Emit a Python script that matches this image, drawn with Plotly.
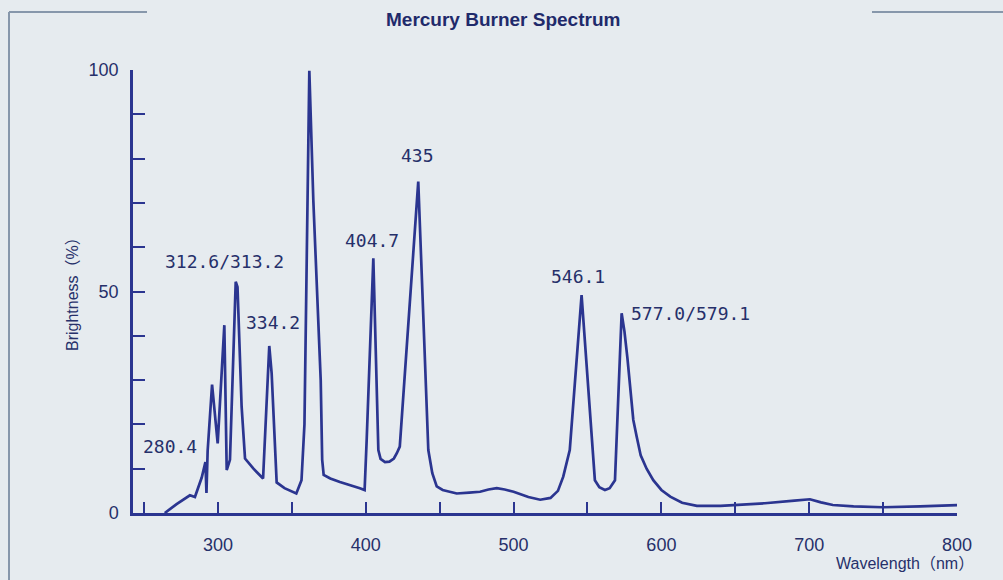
import plotly.graph_objects as go

# ---- data ----
wavelength = [264, 272, 281, 284.4, 289, 291.5, 292.2, 293, 296, 299.8, 304.3, 305.9, 308.1,
              312, 313.2, 316, 318.3, 324, 330.5, 334.7, 336.3, 339.7, 345, 350, 353, 356.5,
              358.5, 361.8, 364.5, 369.5, 370.5, 371.5, 376, 382.5, 390, 396, 399.2, 400.6,
              405.1, 407.4, 408.5, 410, 413, 416, 419, 421, 423, 435.5, 440, 442.3, 445, 448,
              452, 461.5, 470, 477.3, 483, 488.6, 494, 500, 510, 518, 525, 530, 533.6, 538,
              546, 550.5, 555, 558, 561.8, 565, 568.6, 573.1, 575, 577, 579, 581, 583.3, 586,
              590, 594.5, 600, 606, 614, 624, 640, 653, 670, 690, 700.5, 708, 716, 730, 750,
              775, 800]
brightness = [0, 2, 4, 3.6, 8, 11.5, 4.5, 14, 29, 15.7, 42.4, 9.7, 12,
              52.2, 51, 24, 12.3, 10, 7.8, 37.7, 31.6, 6.9, 5.6, 4.8, 4.4, 7.4,
              20, 99.8, 70.6, 30, 12, 8.6, 7.8, 7, 6.3, 5.6, 5.2, 16.5,
              57.5, 31.6, 14.2, 12.2, 11.5, 11.6, 12.3, 13.5, 15, 74.8, 31.6, 14.2, 9, 6,
              5.2, 4.4, 4.6, 4.8, 5.3, 5.6, 5.3, 4.8, 3.6, 3.0, 3.4, 5, 8.2, 14.2,
              49.2, 29.3, 7.4, 5.8, 5.2, 5.6, 7.4, 45.1, 41, 35, 27.8, 21, 17.2, 13,
              10, 7.4, 5.2, 3.7, 2.3, 1.6, 1.6, 1.8, 2.2, 2.8, 3.1, 2.4, 1.8, 1.5, 1.3,
              1.5, 1.8]

peak_labels = ["365/366", "435", "404.7", "312.6/313.2", "334.2", "280.4", "546.1", "577.0/579.1"]
peak_label_x = [362.2, 435.3, 404.2, 304.7, 337.2, 267.5, 543.6, 619.4]
peak_label_y = [104.0, 80.8, 61.6, 56.7, 43.1, 14.9, 53.3, 45.1]

x_major = [300, 400, 500, 600, 700, 800]
x_minor = [250, 350, 450, 550, 650, 750]
y_ticks = [0, 10, 20, 30, 40, 50, 60, 70, 80, 90, 100]
y_labels = ["0", "", "", "", "", "50", "", "", "", "", "100"]

title_text = "Mercury Burner Spectrum"
x_title = "Wavelength（nm）"
y_title = "Brightness（%）"

# ---- layout geometry ----
W, H = 1003, 580
L, R, T, B = 133, 46, 70, 67
PW, PH = W - L - R, H - T - B


def px_x(p):
    return (p - L) / PW


def px_y(p):
    return (H - B - p) / PH


NAVY = "#2b3590"
TEXT = "#26306a"
BG = "#e6ebef"
FRAME = "#8797ab"

fig = go.Figure()
fig.add_trace(go.Scatter(x=wavelength, y=brightness, mode="lines",
                         line=dict(color=NAVY, width=2.7), hoverinfo="skip",
                         showlegend=False, cliponaxis=False))

mono = "DejaVu Sans Mono, Liberation Mono, monospace"
for t, xv, yv in zip(peak_labels, peak_label_x, peak_label_y):
    fig.add_annotation(x=xv, y=yv, xref="x", yref="y", text=t, showarrow=False,
                       xanchor="center", yanchor="middle",
                       font=dict(family=mono, size=18, color=TEXT))

tick_font = dict(family="Liberation Sans Narrow, Arial Narrow, Liberation Sans, Arial, sans-serif",
                 size=18, color=TEXT)

fig.update_xaxes(range=[242.5, 800], tickmode="array", tickvals=x_major + x_minor,
                 ticktext=[str(v) for v in x_major] + [""] * len(x_minor),
                 ticks="inside", ticklen=11, tickwidth=2, tickcolor=NAVY,
                 showline=True, linecolor=NAVY, linewidth=2.5, showgrid=False,
                 zeroline=False, tickfont=tick_font, ticklabelstandoff=14)
fig.update_yaxes(range=[0, 100], tickmode="array", tickvals=y_ticks, ticktext=y_labels,
                 ticks="inside", ticklen=12, tickwidth=2, tickcolor=NAVY,
                 showline=True, linecolor=NAVY, linewidth=2.5, showgrid=False,
                 zeroline=False, tickfont=tick_font, ticklabelstandoff=8)

# titles
fig.add_annotation(x=px_x(503), y=px_y(20), xref="paper", yref="paper", text="<b>" + title_text + "</b>",
                   showarrow=False, xanchor="center", yanchor="middle",
                   font=dict(family="Liberation Sans, Arial, sans-serif", size=19, color="#1f2a6b"))
fig.add_annotation(x=px_x(905), y=px_y(563), xref="paper", yref="paper", text=x_title,
                   showarrow=False, xanchor="center", yanchor="middle",
                   font=dict(family="Liberation Sans, Noto Sans CJK JP, sans-serif", size=16, color=TEXT))
fig.add_annotation(x=px_x(72), y=px_y(290), xref="paper", yref="paper", text=y_title,
                   showarrow=False, textangle=-90, xanchor="center", yanchor="middle",
                   font=dict(family="Liberation Sans, Noto Sans CJK JP, sans-serif", size=16, color=TEXT))

# frame lines
fig.add_shape(type="line", xref="paper", yref="paper", x0=px_x(9), x1=px_x(9), y0=px_y(12), y1=px_y(582),
              line=dict(color=FRAME, width=2))
fig.add_shape(type="line", xref="paper", yref="paper", x0=px_x(9), x1=px_x(147), y0=px_y(12), y1=px_y(12),
              line=dict(color=FRAME, width=2))
fig.add_shape(type="line", xref="paper", yref="paper", x0=px_x(872), x1=px_x(1005), y0=px_y(12), y1=px_y(12),
              line=dict(color=FRAME, width=2))

fig.update_layout(width=W, height=H, margin=dict(l=L, r=R, t=T, b=B, autoexpand=False),
                  paper_bgcolor=BG, plot_bgcolor=BG, showlegend=False)

fig.write_html("out.html", config={"displayModeBar": False},
               post_script="document.body.style.margin='0px';document.body.style.background='" + BG + "';")
